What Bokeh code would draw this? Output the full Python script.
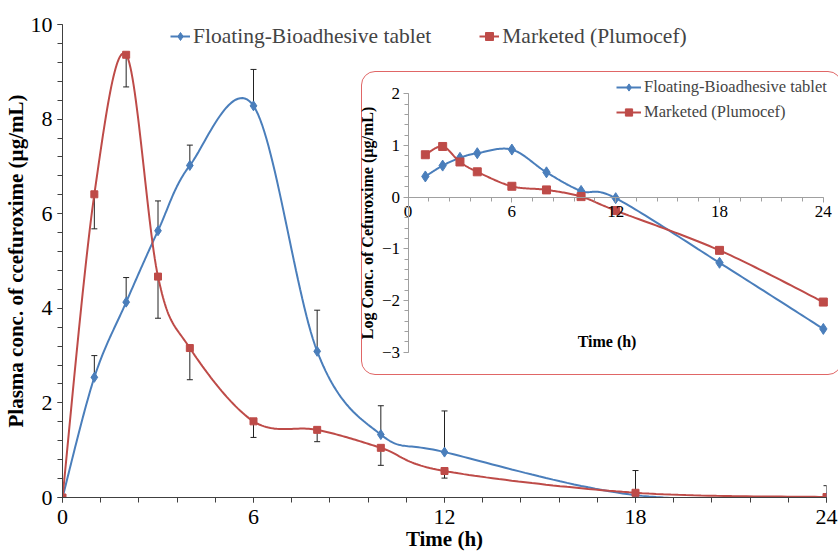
import numpy as np
from bokeh.plotting import figure
from bokeh.layouts import column
from bokeh.models import (ColumnDataSource, Whisker, TeeHead, Legend, LegendItem,
                          SingleIntervalTicker, Label, Div)
from bokeh.embed import file_html
from bokeh.resources import INLINE

# ---------------- data ----------------
time_h = [0, 1, 2, 3, 4, 6, 8, 10, 12, 18, 24]
floating = [0.0, 2.54, 4.13, 5.64, 7.02, 8.28, 3.09, 1.33, 0.96, 0.05, 0.0]
floating_sd = [0.0, 0.46, 0.52, 0.63, 0.43, 0.77, 0.87, 0.61, 0.87, 0.52, 0.25]
marketed = [0.0, 6.41, 9.36, 4.67, 3.16, 1.61, 1.43, 1.05, 0.56, 0.10, 0.01]
marketed_sd = [0.0, 0.73, 0.68, 0.88, 0.67, 0.34, 0.25, 0.37, 0.15, 0.04, 0.01]

log_time_h = [1, 2, 3, 4, 6, 8, 10, 12, 18, 24]
log_floating = [0.40, 0.61, 0.76, 0.85, 0.92, 0.48, 0.12, -0.02, -1.27, -2.55]
log_marketed = [0.82, 0.98, 0.68, 0.49, 0.21, 0.14, 0.01, -0.26, -1.03, -2.03]

BLUE = "#4a7ebb"
RED = "#be4b48"
FONT = "Liberation Serif"


def smooth(xs, ys, n=30):
    """Excel-style smoothed line (Catmull-Rom Bezier) through the data points."""
    P = np.column_stack([np.asarray(xs, float), np.asarray(ys, float)])
    out = []
    m = len(P)
    for i in range(m - 1):
        p0 = P[i - 1] if i > 0 else P[i]
        p1, p2 = P[i], P[i + 1]
        p3 = P[i + 2] if i + 2 < m else P[i + 1]
        c1 = p1 + (p2 - p0) / 6.0
        c2 = p2 - (p3 - p1) / 6.0
        s = np.linspace(0, 1, n, endpoint=(i == m - 2))[:, None]
        out.append((1 - s) ** 3 * p1 + 3 * (1 - s) ** 2 * s * c1
                   + 3 * (1 - s) * s ** 2 * c2 + s ** 3 * p2)
    B = np.vstack(out)
    return B[:, 0], B[:, 1]


# ---------------- main chart ----------------
p = figure(width=838, height=553, x_range=(0, 24), y_range=(0, 10),
           output_backend="svg", toolbar_location=None,
           min_border_top=24, min_border_right=12, min_border_left=60, min_border_bottom=54)
p.grid.visible = False
p.outline_line_color = None
p.background_fill_color = "white"

bx, by = smooth(time_h, floating)
rx, ry = smooth(time_h, marketed)

src_b = ColumnDataSource(dict(t=time_h, v=floating,
                              lo=floating, hi=[a + b for a, b in zip(floating, floating_sd)]))
src_r = ColumnDataSource(dict(t=time_h, v=marketed,
                              lo=[a - b for a, b in zip(marketed, marketed_sd)], hi=marketed))

for src in (src_b, src_r):
    w = Whisker(base="t", lower="lo", upper="hi", source=src, line_color="#222222", line_width=1,
                upper_head=TeeHead(size=6, line_color="#222222", line_width=1),
                lower_head=TeeHead(size=6, line_color="#222222", line_width=1))
    p.add_layout(w)

lb = p.line(bx, by, line_color=BLUE, line_width=2)
sb = p.scatter("t", "v", source=src_b, marker="diamond", size=10, color=BLUE)
lr = p.line(rx, ry, line_color=RED, line_width=2)
sr = p.scatter("t", "v", source=src_r, marker="square", size=7, color=RED)

p.xaxis.ticker = SingleIntervalTicker(interval=6, num_minor_ticks=5)
p.yaxis.ticker = SingleIntervalTicker(interval=2, num_minor_ticks=5)
for ax in (p.xaxis[0], p.yaxis[0]):
    ax.axis_line_color = "#404040"
    ax.major_tick_line_color = "#404040"
    ax.minor_tick_line_color = "#404040"
    ax.major_tick_in = 0
    ax.major_tick_out = 5
    ax.minor_tick_in = 0
    ax.minor_tick_out = 5
    ax.major_label_text_font = FONT
    ax.major_label_text_font_size = "22px"
    ax.major_label_text_color = "black"
    ax.axis_label_text_font = FONT
    ax.axis_label_text_font_style = "bold"
    ax.axis_label_text_font_size = "21px"
    ax.axis_label_text_color = "black"
p.xaxis.axis_label = "Time (h)"
p.yaxis.axis_label = "Plasma conc. of ccefuroxime (\u00b5g/mL)"
p.xaxis.major_label_standoff = 7
p.xaxis.axis_label_standoff = 0
p.yaxis.major_label_standoff = 5
p.yaxis.axis_label_standoff = 0

leg = Legend(items=[LegendItem(label="Floating-Bioadhesive tablet", renderers=[lb, sb]),
                    LegendItem(label="Marketed (Plumocef)", renderers=[lr, sr])],
             orientation="horizontal", location=(108, 448), padding=0, margin=0,
             spacing=48, glyph_width=20, glyph_height=26, label_height=26, label_standoff=3,
             label_text_font=FONT, label_text_font_size="21.5px",
             background_fill_alpha=0, border_line_color=None)
p.add_layout(leg)

# ---------------- inset chart ----------------
# rounded red frame of the inset
box = Div(text="", width=481, height=304,
          styles={"position": "absolute", "left": "356px", "top": "66px",
                  "box-sizing": "border-box", "border": "1.5px solid #e06666",
                  "border-radius": "14px", "background": "white"})

INS_LEFT = 298   # page x of the (transparent) inset figure
INS_W = 552
ins = figure(width=INS_W, height=296, x_range=(-2.748, 24.876), y_range=(-3.277, 2.45),
             output_backend="svg", toolbar_location=None,
             min_border_left=0, min_border_right=0, min_border_top=0, min_border_bottom=0,
             styles={"position": "absolute", "left": f"{INS_LEFT}px", "top": "70px",
                     "background": "transparent"})
ins.grid.visible = False
ins.outline_line_color = None
ins.border_fill_alpha = 0
ins.background_fill_alpha = 0

ibx, iby = smooth(log_time_h, log_floating)
irx, iry = smooth(log_time_h, log_marketed)
ilb = ins.line(ibx, iby, line_color=BLUE, line_width=2)
isb = ins.scatter(log_time_h, log_floating, marker="diamond", size=11, color=BLUE)
ilr = ins.line(irx, iry, line_color=RED, line_width=2)
isr = ins.scatter(log_time_h, log_marketed, marker="square", size=8, color=RED)

ins.xaxis.ticker = SingleIntervalTicker(interval=6, num_minor_ticks=5)
ins.yaxis.ticker = SingleIntervalTicker(interval=1, num_minor_ticks=5)
ins.xaxis.fixed_location = 0
ins.yaxis.fixed_location = 0
ins.xaxis.bounds = (0, 24)
ins.yaxis.bounds = (-3, 2)
for ax in (ins.xaxis[0], ins.yaxis[0]):
    ax.axis_line_color = "#a0a0a0"
    ax.major_tick_line_color = "#a0a0a0"
    ax.minor_tick_line_color = "#a0a0a0"
    ax.major_tick_in = 0
    ax.major_tick_out = 5
    ax.minor_tick_in = 0
    ax.minor_tick_out = 4
    ax.major_label_text_font = FONT
    ax.major_label_text_font_size = "17px"
    ax.major_label_text_color = "black"
    ax.axis_label_text_font = FONT
    ax.axis_label_text_font_style = "bold"
    ax.axis_label_text_font_size = "16px"
    ax.axis_label_text_color = "black"
ins.yaxis.axis_label = "Log Conc. of Cefuroxime (\u00b5g/mL)"
ins.yaxis.major_label_standoff = 3
ins.yaxis.axis_label_standoff = 3
ins.xaxis.major_label_standoff = 4

ins.add_layout(Label(x=11.5, y=-2.8, text="Time (h)", text_align="center", text_baseline="middle",
                     text_font=FONT, text_font_style="bold", text_font_size="16px",
                     text_color="black"))

ileg = Legend(items=[LegendItem(label="Floating-Bioadhesive tablet", renderers=[ilb, isb]),
                     LegendItem(label="Marketed (Plumocef)", renderers=[ilr, isr])],
              location=(256, 244), padding=0, margin=0, spacing=5,
              glyph_width=25, glyph_height=18, label_height=18, label_standoff=3,
              label_text_font=FONT, label_text_font_size="16.5px",
              background_fill_alpha=0, border_line_color=None)
ins.add_layout(ileg)

layout = column(p, box, ins, styles={"position": "relative", "overflow": "hidden"})
open("out.html", "w").write(file_html(layout, INLINE))
